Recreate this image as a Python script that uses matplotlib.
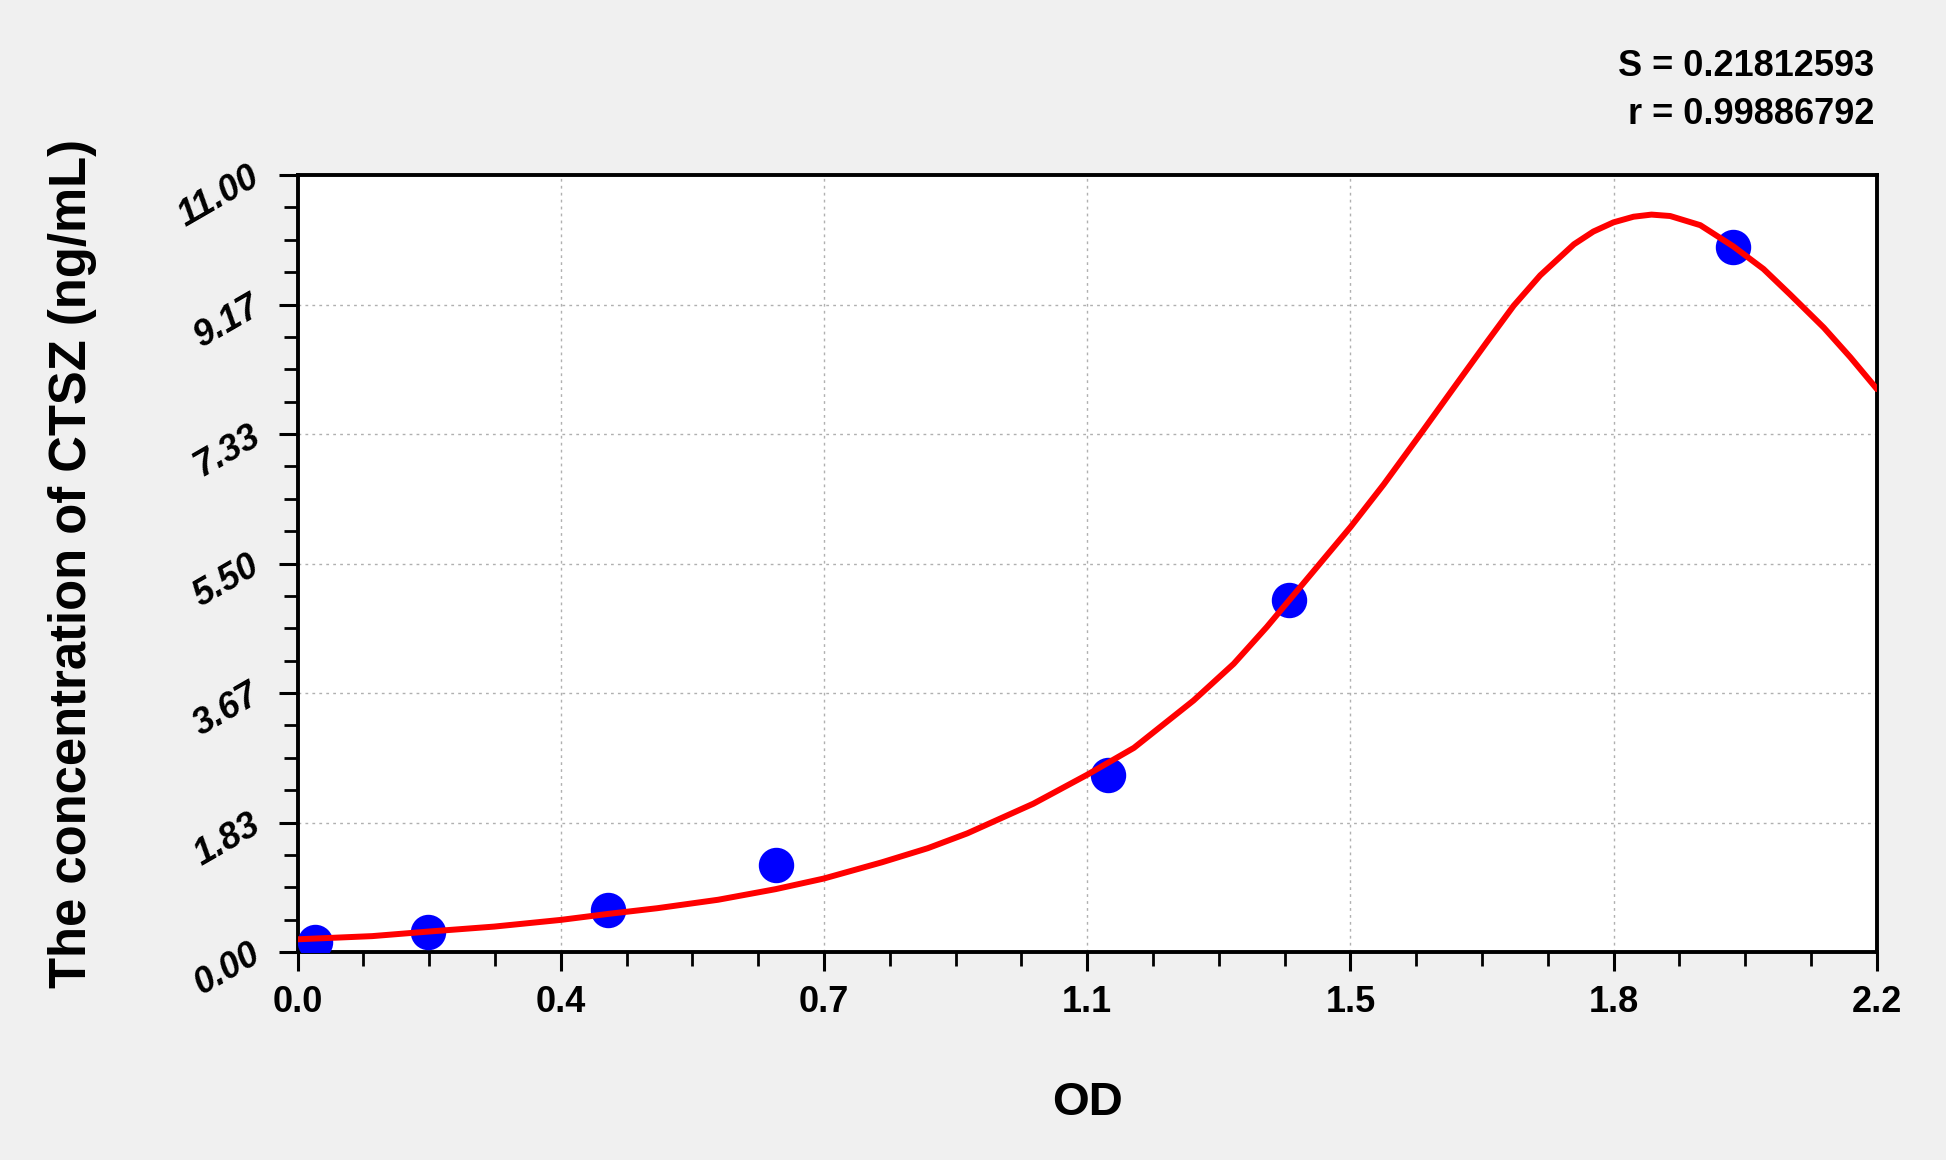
import numpy as np
import matplotlib
matplotlib.use("Agg")
from matplotlib import pyplot as plt
from matplotlib.ticker import FixedLocator, AutoMinorLocator

# standard points (OD, concentration)
od_points = [0.024, 0.182, 0.433, 0.666, 1.129, 1.381, 2.000]
conc_points = [0.14, 0.28, 0.59, 1.23, 2.50, 4.98, 9.98]

# fitted curve
curve_od = [0.000, 0.104, 0.183, 0.274, 0.367, 0.433, 0.501, 0.586, 0.666, 0.733,
            0.814, 0.878, 0.933, 1.025, 1.100, 1.165, 1.248, 1.304, 1.350, 1.397,
            1.467, 1.513, 1.564, 1.615, 1.657, 1.694, 1.731, 1.778, 1.805, 1.833,
            1.861, 1.886, 1.912, 1.954, 2.000, 2.042, 2.079, 2.126, 2.163, 2.200]
curve_conc = [0.18, 0.225, 0.29, 0.36, 0.455, 0.54, 0.62, 0.74, 0.89, 1.04,
              1.27, 1.47, 1.68, 2.10, 2.51, 2.89, 3.56, 4.08, 4.60, 5.17,
              6.02, 6.62, 7.33, 8.05, 8.64, 9.15, 9.58, 10.02, 10.20, 10.33,
              10.41, 10.44, 10.42, 10.29, 9.99, 9.67, 9.31, 8.84, 8.42, 7.97]

x_ticks = [0.0, 2.2 / 6, 2 * 2.2 / 6, 1.1, 4 * 2.2 / 6, 5 * 2.2 / 6, 2.2]
x_labels = ["0.0", "0.4", "0.7", "1.1", "1.5", "1.8", "2.2"]
y_ticks = [0.0, 11 / 6, 2 * 11 / 6, 5.5, 4 * 11 / 6, 5 * 11 / 6, 11.0]
y_labels = ["0.00", "1.83", "3.67", "5.50", "7.33", "9.17", "11.00"]

S_value = "0.21812593"
r_value = "0.99886792"

font = ["Liberation Sans", "DejaVu Sans"]

fig = plt.figure(figsize=(19.46, 11.6), dpi=100, facecolor="#f0f0f0")
ax = fig.add_axes([0.1529, 0.1793, 0.8116, 0.6698])
ax.set_facecolor("white")

ax.plot(od_points, conc_points, "o", color="#0000ff", markersize=24.5, zorder=3)
ax.plot(curve_od, curve_conc, color="#ff0000", linewidth=4.3, zorder=4,
        solid_joinstyle="round", solid_capstyle="round")

ax.set_xlim(0, 2.2)
ax.set_ylim(0, 11)
ax.xaxis.set_major_locator(FixedLocator(x_ticks))
ax.yaxis.set_major_locator(FixedLocator(y_ticks))
ax.xaxis.set_minor_locator(AutoMinorLocator(4))
ax.yaxis.set_minor_locator(AutoMinorLocator(4))
ax.set_xticklabels(x_labels, family=font, fontweight="bold", fontsize=26)
ax.set_yticklabels(y_labels, family=font, fontweight="bold", fontsize=26,
                   fontstyle="italic", rotation=30, ha="right", va="center",
                   rotation_mode="anchor")

ax.tick_params(which="major", direction="out", length=14, width=2.2, pad=10)
ax.tick_params(which="minor", direction="out", length=10, width=2.0)
ax.tick_params(axis="y", which="major", pad=15)
for sp in ax.spines.values():
    sp.set_linewidth(2.8)

ax.grid(True, which="major", color="#b0b0b0", linestyle=(0, (2, 3)), linewidth=1.0)

ax.set_xlabel("OD", family=font, fontweight="bold", fontsize=34)
ax.xaxis.set_label_coords(0.5, -0.166)
ax.set_ylabel("The concentration of CTSZ (ng/mL)", family=font, fontweight="bold",
              fontsize=36.5)
ax.yaxis.set_label_coords(-0.127, 0.5)

fig.text(1874 / 1946, 1 - 66 / 1160, "S = " + S_value, family=font,
         fontweight="bold", fontsize=26, ha="right", va="center")
fig.text(1874 / 1946, 1 - 114 / 1160, "r = " + r_value, family=font,
         fontweight="bold", fontsize=26, ha="right", va="center")

fig.savefig("out.png", dpi=100, facecolor=fig.get_facecolor())
